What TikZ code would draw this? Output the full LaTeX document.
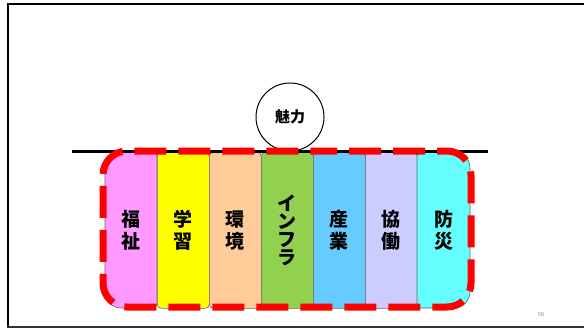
\documentclass[tikz,border=0pt]{standalone}
\usepackage{fontspec}
\newfontfamily\cjk{Noto Sans CJK JP}
\definecolor{cpink}{HTML}{FF99FF}
\definecolor{cyellow}{HTML}{FFFF00}
\definecolor{cpeach}{HTML}{FFCC99}
\definecolor{cgreen}{HTML}{92D050}
\definecolor{cblue}{HTML}{66CCFF}
\definecolor{clav}{HTML}{CCCCFF}
\definecolor{ccyan}{HTML}{66FFFF}
\definecolor{cframe}{HTML}{000000}
\tikzset{
  col/.style={draw=black!60, line width=0.6pt, rounded corners=4pt, minimum width=52pt, minimum height=156pt, inner sep=0pt, anchor=north west},
  lbl/.style={font=\cjk\bfseries\fontsize{19}{22}\selectfont, align=center, text=black},
  ring/.style={circle, draw=black, line width=1pt, fill=white, minimum size=68pt, inner sep=0pt, font=\cjk\bfseries\fontsize{15}{18}\selectfont},
  redline/.style={draw=red, line width=7pt, dash pattern=on 32pt off 12pt, dash phase=6pt, rounded corners=24pt}
}
\begin{document}
\begin{tikzpicture}[x=1pt,y=-1pt]
\useasboundingbox (0,0) rectangle (584,329);
% frame
\draw[line width=2.5pt, cframe] (590,4) -- (8,4) -- (8,326.5);
\draw[line width=1.2pt, black!80] (7,327) -- (590,327);
% columns
\fill[cpink, draw=black!60, line width=0.6pt] (105,152) [rounded corners=16pt] -- (105,308) [rounded corners=4pt] -- (157,308) -- (157,152) [rounded corners=16pt] -- cycle;
\node[lbl] (c1) at (131,230) {福\\祉};
\node[col, fill=cyellow] (c2) at (157,152) {};
\node[lbl] at (c2.center) {学\\習};
\node[col, fill=cpeach] (c3) at (209,152) {};
\node[lbl] at (c3.center) {環\\境};
\node[col, fill=cgreen] (c4) at (261,152) {};
\node[lbl, font=\cjk\bfseries\fontsize{19}{18}\selectfont] at (c4.center) {イ\\ン\\フ\\ラ};
\node[col, fill=cblue] (c5) at (313,152) {};
\node[lbl] at (c5.center) {産\\業};
\node[col, fill=clav] (c6) at (365,152) {};
\node[lbl] at (c6.center) {協\\働};
\fill[ccyan, draw=black!60, line width=0.6pt] (417,152) [rounded corners=4pt] -- (417,308) [rounded corners=16pt] -- (470,308) -- (470,152) [rounded corners=4pt] -- cycle;
\node[lbl] (c7) at (443.5,230) {防\\災};
% circle
\node[ring] (m) at (290,117) {魅力};
% top line
\coordinate (l1) at (72,151);
\coordinate (l2) at (488,151);
\draw[line width=3pt, black] (l1) -- (l2);
% red dashed outline
\draw[redline] (287,151) -- (471,151) -- (471,307) -- (103,307) -- (103,151) -- cycle;
% page number
\node[font=\sffamily\fontsize{6}{7}\selectfont, text=black!45] (pg) at (541,315) {56};
\end{tikzpicture}
\end{document}
